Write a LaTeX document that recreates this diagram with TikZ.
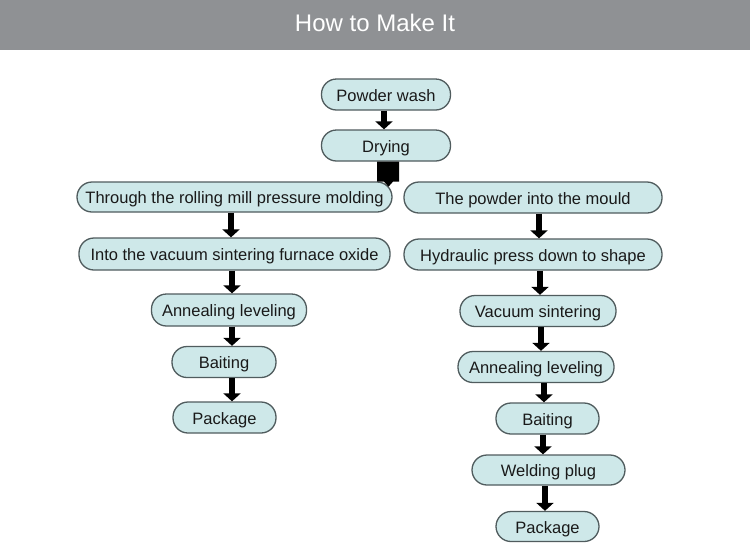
\documentclass[tikz,border=0pt]{standalone}
\usepackage{fontspec}
\setmainfont{Liberation Sans}
\usetikzlibrary{arrows.meta}
\definecolor{hdr}{RGB}{143,145,148}
\definecolor{boxfill}{RGB}{206,232,233}
\definecolor{boxline}{RGB}{80,92,94}
\tikzset{
  stepbox/.style={draw=boxline, fill=boxfill, line width=1.3pt, rounded corners=15pt,
    inner sep=0pt, minimum height=31pt, font=\fontsize{16.5}{18}\selectfont, text=black!90,
    text height=14pt, text depth=1pt},
  blk/.style={line width=5.5pt, black, -{Triangle[width=17pt,length=8pt]}}
}
\begin{document}
\begin{tikzpicture}[x=1pt,y=-1pt]
\useasboundingbox (0,0) rectangle (750,550);
\fill[white] (0,0) rectangle (750,550);
\fill[hdr] (0,0) rectangle (750,50);
\node[text=white, font=\fontsize{24}{26}\selectfont] (title) at (375,23) {How to Make It};

\node[stepbox, minimum width=129pt] (wash) at (386,94.5) {Powder wash};
\node[stepbox, minimum width=129pt] (dry) at (386,145.5) {Drying};
\node[stepbox, minimum width=315pt, minimum height=30pt] (roll) at (234.5,197) {Through the rolling mill pressure molding};
\node[stepbox, minimum width=258pt] (mould) at (533,197.5) {The powder into the mould};
\node[stepbox, minimum width=311pt, minimum height=32pt] (vacf) at (234.5,254) {Into the vacuum sintering furnace oxide};
\node[stepbox, minimum width=258pt] (hyd) at (533,254.5) {Hydraulic press down to shape};
\node[stepbox, minimum width=155pt, minimum height=32pt] (annL) at (229,310) {Annealing leveling};
\node[stepbox, minimum width=156pt] (vsin) at (538,311) {Vacuum sintering};
\node[stepbox, minimum width=104pt] (baitL) at (224,362) {Baiting};
\node[stepbox, minimum width=156pt] (annR) at (536,367) {Annealing leveling};
\node[stepbox, minimum width=103pt] (packL) at (224.5,417.5) {Package};
\node[stepbox, minimum width=103pt] (baitR) at (547.5,418.5) {Baiting};
\node[stepbox, minimum width=153pt, minimum height=30pt] (weld) at (548.5,470) {Welding plug};
\node[stepbox, minimum width=103pt, minimum height=30pt] (packR) at (547.5,526.5) {Package};

% arrows
\draw[blk] ([xshift=-2pt]wash.south) -- ([xshift=-2pt]dry.north);
\fill[black] ([xshift=-9pt]dry.south) -- ++(22,0) -- ++(0,20) -- ++(-6,0) -- ++(-4.5,5) -- ++(-4.5,-5) -- ++(-7,0) -- cycle;

\draw[blk] ([xshift=-3.5pt]roll.south) -- ([xshift=-3.5pt]vacf.north);
\draw[blk] ([xshift=-2.5pt]vacf.south) -- ([xshift=3pt]annL.north);
\draw[blk] ([xshift=3pt]annL.south) -- ([xshift=8pt]baitL.north);
\draw[blk] ([xshift=8pt]baitL.south) -- ([xshift=7.5pt]packL.north);

\draw[blk] ([xshift=6pt]mould.south) -- ([xshift=6pt]hyd.north);
\draw[blk] ([xshift=7pt]hyd.south) -- ([xshift=2pt]vsin.north);
\draw[blk] ([xshift=3pt]vsin.south) -- ([xshift=5pt]annR.north);
\draw[blk] ([xshift=8pt]annR.south) -- ([xshift=-3.5pt]baitR.north);
\draw[blk] ([xshift=-4.5pt]baitR.south) -- ([xshift=-5.5pt]weld.north);
\draw[blk] ([xshift=-3.5pt]weld.south) -- ([xshift=-2.5pt]packR.north);
\end{tikzpicture}
\end{document}
